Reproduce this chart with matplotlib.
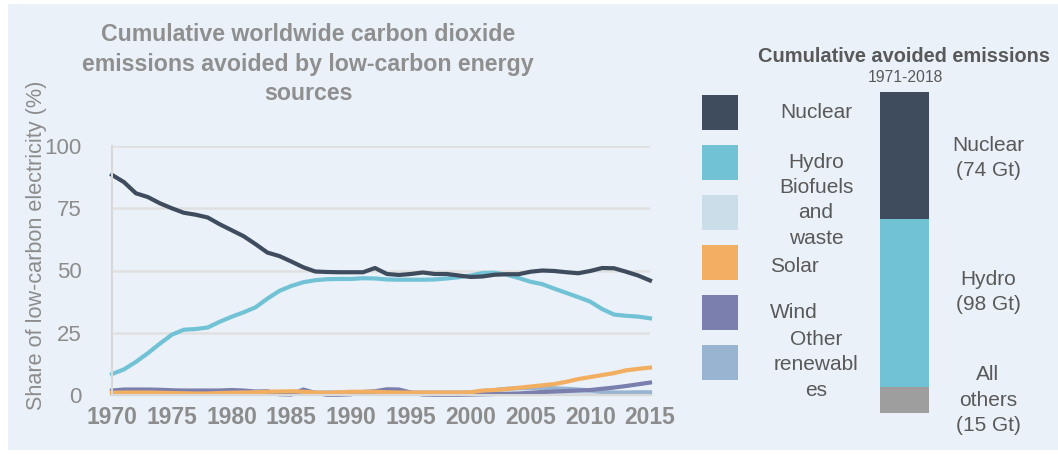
import matplotlib
matplotlib.use("Agg")
import matplotlib.pyplot as plt
from matplotlib.patches import Rectangle

plt.rcParams['font.family'] = ['Liberation Sans', 'DejaVu Sans']

years = list(range(1970, 2016))
nuclear = [88.4, 85.5, 81.0, 79.5, 77.0, 75.0, 73.2, 72.4, 71.3, 68.6,
           66.2, 63.8, 60.6, 57.2, 55.8, 53.6, 51.3, 49.6, 49.4, 49.3,
           49.3, 49.3, 51.0, 48.6, 48.2, 48.6, 49.2, 48.6, 48.6, 48.0,
           47.4, 47.6, 48.3, 48.5, 48.5, 49.5, 50.0, 49.8, 49.3, 48.9,
           49.8, 51.0, 50.9, 49.5, 48.0, 46.0]
hydro = [8.4, 10.3, 13.3, 16.8, 20.6, 24.2, 26.2, 26.5, 27.1, 29.4,
         31.4, 33.2, 35.2, 38.7, 41.8, 43.8, 45.3, 46.1, 46.5, 46.6,
         46.6, 46.9, 46.8, 46.4, 46.3, 46.3, 46.3, 46.4, 46.8, 47.3,
         48.0, 49.0, 49.1, 48.3, 47.0, 45.5, 44.5, 42.7, 41.0, 39.3,
         37.5, 34.5, 32.3, 31.8, 31.5, 30.8]
biofuels = [0.3] * 46
solar = [0.9, 1.0, 1.0, 1.0, 0.9, 0.8, 0.7, 0.6, 0.6, 0.8,
         0.9, 1.0, 1.1, 1.3, 1.4, 1.5, 1.3, 1.0, 0.9, 1.1,
         1.3, 1.3, 1.3, 1.1, 1.0, 1.0, 1.0, 1.0, 1.0, 1.0,
         1.1, 1.8, 2.0, 2.4, 2.9, 3.4, 3.9, 4.4, 5.3, 6.4,
         7.2, 8.0, 8.8, 9.9, 10.5, 11.0]
wind = [1.8, 2.2, 2.2, 2.2, 2.1, 1.9, 1.8, 1.8, 1.8, 1.8,
        2.0, 1.8, 1.4, 1.5, 0.3, 0.2, 2.2, 0.8, 0.1, 0.1,
        0.3, 1.2, 1.5, 2.3, 2.2, 1.0, 0.2, 0.1, 0.1, 0.1,
        0.2, 0.3, 0.4, 0.5, 0.6, 0.9, 1.2, 1.4, 1.6, 1.8,
        2.0, 2.5, 3.0, 3.6, 4.3, 5.0]
other = [1.0] * 31 + [1.5, 2.0, 2.5, 2.7, 2.8, 2.9, 2.7, 2.5, 2.2,
                      1.8, 1.2, 1.0, 1.0, 1.1, 1.1]

bar_labels = ["All\nothers\n(15 Gt)", "Hydro\n(98 Gt)", "Nuclear\n(74 Gt)"]
bar_values = [15, 98, 74]

legend_names = ["Nuclear", "Hydro", "Biofuels\nand\nwaste", "Solar", "Wind",
                "Other\nrenewabl\nes"]

C_NUC = "#3E4C5E"
C_HYD = "#72C2D6"
C_BIO = "#CCDDEA"
C_SOL = "#F2AF62"
C_WIN = "#7A7FAD"
C_OTH = "#99B4D1"
C_ALL = "#9E9E9E"
BG = "#EAF1F9"
GRID = "#D9D9D9"
TICK = "#8C8C8C"
DARK = "#595959"

W, H = 1058, 455
fig = plt.figure(figsize=(W / 100, H / 100), dpi=100)
fig.patch.set_facecolor("white")


def fx(x):
    return x / W


def fy(y):
    return 1 - y / H


fig.patches.append(Rectangle((fx(8), fy(450)), fx(W - 8), (450 - 4) / H,
                             transform=fig.transFigure, facecolor=BG,
                             edgecolor="none", zorder=-10))

ax = fig.add_axes([fx(112), fy(395), (650 - 112) / W, (395 - 146) / H])
ax.set_facecolor("none")
ax.set_xlim(1970, 2015)
ax.set_ylim(0, 100)
for s in ["top", "right"]:
    ax.spines[s].set_visible(False)
ax.spines["left"].set_color(GRID)
ax.spines["bottom"].set_color(GRID)
ax.spines["left"].set_linewidth(1.5)
ax.spines["bottom"].set_linewidth(1.5)
ax.set_yticks([0, 25, 50, 75, 100])
ax.set_xticks(list(range(1970, 2016, 5)))
ax.grid(axis="y", color="#E0E0E0", linewidth=1.8)
ax.set_axisbelow(True)
ax.tick_params(axis="both", length=0)
ax.tick_params(axis="y", labelsize=16, labelcolor=TICK, pad=22)
ax.tick_params(axis="x", labelsize=16.5, labelcolor=TICK, pad=8)
for lab in ax.get_xticklabels():
    lab.set_fontweight("bold")

lw = 3.0
series = [(biofuels, C_BIO), (other, C_OTH), (wind, C_WIN), (solar, C_SOL),
          (hydro, C_HYD), (nuclear, C_NUC)]
for vals, col in series:
    ax.plot(years, vals, color=col, lw=lw, clip_on=False, solid_joinstyle="round")

fig.text(fx(37), fy(245), "Share of low-carbon electricity (%)", rotation=90,
         ha="center", va="center", fontsize=15.6, color=TICK)

fig.text(fx(308), fy(64),
         "Cumulative worldwide carbon dioxide\nemissions avoided by low-carbon energy\nsources",
         ha="center", va="center", fontsize=16.7, fontweight="bold",
         color="#8F8F8F", linespacing=1.35)

# stacked bar
ax2 = fig.add_axes([fx(880), fy(413), 49 / W, 321 / H])
ax2.set_xlim(0, 1)
ax2.set_ylim(0, sum(bar_values))
ax2.axis("off")
bottom = 0
bar_cols = [C_ALL, C_HYD, C_NUC]
for v, c in zip(bar_values, bar_cols):
    ax2.bar(0.5, v, width=1.0, bottom=bottom, color=c, edgecolor="none")
    bottom += v

lab_y = [400, 292, 158]
for lab, y in zip(bar_labels, lab_y):
    fig.text(fx(988), fy(y), lab, ha="center", va="center", fontsize=15,
             color=DARK, linespacing=1.45)

fig.text(fx(904), fy(56), "Cumulative avoided emissions", ha="center",
         va="center", fontsize=14.4, fontweight="bold", color=DARK)
fig.text(fx(905), fy(77), "1971-2018", ha="center", va="center",
         fontsize=11.3, color=DARK)

# legend
leg_cols = [C_NUC, C_HYD, C_BIO, C_SOL, C_WIN, C_OTH]
for i, col in enumerate(leg_cols):
    top = 95 + 50 * i
    fig.patches.append(Rectangle((fx(702), fy(top + 35)), 36 / W, 35 / H,
                                 transform=fig.transFigure, facecolor=col,
                                 edgecolor="none"))

leg_pos = [(816, 113, "center"), (816, 163, "center"), (816, 213, "center"),
           (770, 267, "left"), (770, 312, "left"), (816, 365, "center")]
for name, (x, y, ha) in zip(legend_names, leg_pos):
    fig.text(fx(x), fy(y), name, ha=ha, va="center", fontsize=15,
             color=DARK, linespacing=1.45, multialignment="center")

fig.savefig("out.png", dpi=100, facecolor="white")
